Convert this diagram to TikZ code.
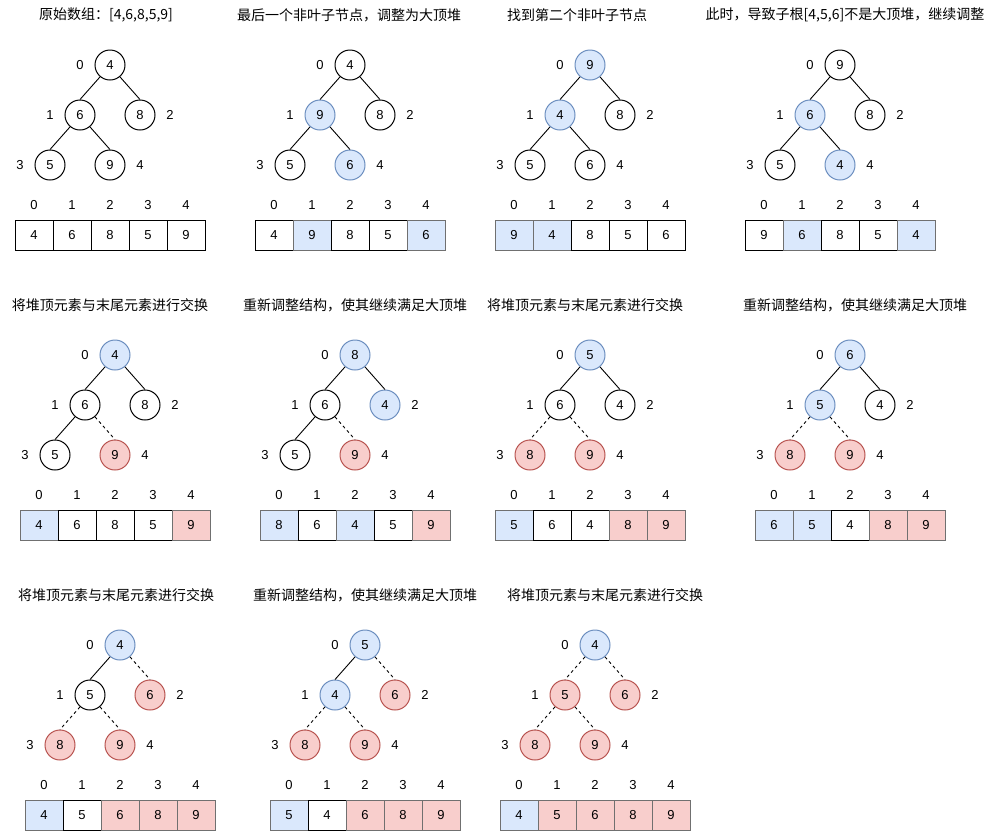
\documentclass[tikz,border=0pt]{standalone}
\usepackage{fontspec}
\setmainfont{Liberation Sans}
\newfontfamily\cjk{Noto Sans CJK SC}
\definecolor{bfill}{HTML}{DAE8FC}
\definecolor{bline}{HTML}{6C8EBF}
\definecolor{rfill}{HTML}{F8CECC}
\definecolor{rline}{HTML}{B85450}
\definecolor{cline}{HTML}{707070}
\tikzset{
  vbase/.style={circle,minimum size=30pt,inner sep=0pt,line width=1pt,font=\fontsize{13}{15}\selectfont},
  vn/.style={vbase,draw=black,fill=white},
  vb/.style={vbase,draw=bline,fill=bfill},
  vr/.style={vbase,draw=rline,fill=rfill},
  en/.style={line width=0.9pt,black},
  eb/.style={line width=0.9pt,black},
  er/.style={line width=0.9pt,black,dash pattern=on 3pt off 3pt},
  arrcell/.style={rectangle,minimum width=38pt,minimum height=30pt,inner sep=0pt,line width=1pt,font=\fontsize{13}{15}\selectfont},
  cn/.style={arrcell,draw=black,fill=white},
  cb/.style={arrcell,draw=cline,fill=bfill},
  cr/.style={arrcell,draw=cline,fill=rfill},
  idx/.style={inner sep=0pt,font=\fontsize{13}{15}\selectfont},
  ttl/.style={inner sep=0pt,font=\cjk\fontsize{14}{16}\selectfont}
}
\newcommand\heap[4]{%
  \foreach \v/\k/\c [count=\i from 0] in {#4} {
    \ifcase\i \def\dx{0}\def\dy{0}\def\lx{-30}%
    \or \def\dx{-30}\def\dy{50}\def\lx{-30}%
    \or \def\dx{30}\def\dy{50}\def\lx{30}%
    \or \def\dx{-60}\def\dy{100}\def\lx{-30}%
    \or \def\dx{0}\def\dy{100}\def\lx{30}\fi
    \node[v\k] (#1n\i) at (#2+\dx, #3+\dy) {\v};
    \node[idx] (#1l\i) at (#2+\dx+\lx, #3+\dy) {\i};
    \ifnum\i>0
      \pgfmathtruncatemacro\p{(\i-1)/2}
      \ifodd\i \def\a{-130}\else \def\a{-50}\fi
      \draw[e\k] (#1n\p.\a) -- (#1n\i.north);
    \fi
    \node[c\c] (#1c\i) at (#2-76+38*\i, #3+170) {\v};
    \node[idx] (#1i\i) at (#2-76+38*\i, #3+140) {\i};
  }
}
\begin{document}
\begin{tikzpicture}[x=1pt,y=-1pt]
\useasboundingbox (0,0) rectangle (1006,831);
% titles
\node[ttl] (t11) at (106,15) {原始数组：[4,6,8,5,9]};
\node[ttl] (t12) at (349,15) {最后一个非叶子节点，调整为大顶堆};
\node[ttl] (t13) at (577,15) {找到第二个非叶子节点};
\node[ttl] (t14) at (845,15) {此时，导致子根[4,5,6]不是大顶堆，继续调整};
\node[ttl] (t21) at (110,305) {将堆顶元素与末尾元素进行交换};
\node[ttl] (t22) at (355,305) {重新调整结构，使其继续满足大顶堆};
\node[ttl] (t23) at (585,305) {将堆顶元素与末尾元素进行交换};
\node[ttl] (t24) at (855,305) {重新调整结构，使其继续满足大顶堆};
\node[ttl] (t31) at (116,595) {将堆顶元素与末尾元素进行交换};
\node[ttl] (t32) at (365,595) {重新调整结构，使其继续满足大顶堆};
\node[ttl] (t33) at (605,595) {将堆顶元素与末尾元素进行交换};
% panels
\heap{pa}{110}{65}{4/n/n,6/n/n,8/n/n,5/n/n,9/n/n}
\heap{pb}{350}{65}{4/n/n,9/b/b,8/n/n,5/n/n,6/b/b}
\heap{pc}{590}{65}{9/b/b,4/b/b,8/n/n,5/n/n,6/n/n}
\heap{pd}{840}{65}{9/n/n,6/b/b,8/n/n,5/n/n,4/b/b}
\heap{pe}{115}{355}{4/b/b,6/n/n,8/n/n,5/n/n,9/r/r}
\heap{pf}{355}{355}{8/b/b,6/n/n,4/b/b,5/n/n,9/r/r}
\heap{pg}{590}{355}{5/b/b,6/n/n,4/n/n,8/r/r,9/r/r}
\heap{ph}{850}{355}{6/b/b,5/b/b,4/n/n,8/r/r,9/r/r}
\heap{pi}{120}{645}{4/b/b,5/n/n,6/r/r,8/r/r,9/r/r}
\heap{pj}{365}{645}{5/b/b,4/b/n,6/r/r,8/r/r,9/r/r}
\heap{pk}{595}{645}{4/b/b,5/r/r,6/r/r,8/r/r,9/r/r}
\end{tikzpicture}
\end{document}
